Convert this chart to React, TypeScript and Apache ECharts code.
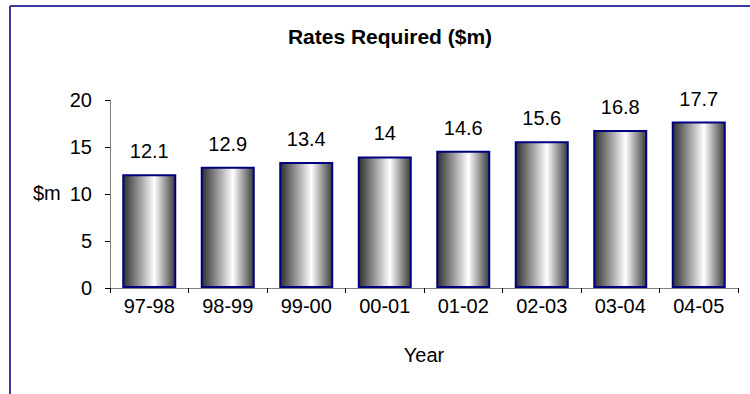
import React, { useEffect, useRef } from "react";
import * as echarts from "echarts";

const categories = ["97-98", "98-99", "99-00", "00-01", "01-02", "02-03", "03-04", "04-05"];
const values = [12.1, 12.9, 13.4, 14, 14.6, 15.6, 16.8, 17.7];
const titleText = "Rates Required ($m)";
const yName = "$m";
const xName = "Year";

const FONT = "'Liberation Sans', Arial, sans-serif";

export default function App() {
  const ref = useRef<HTMLDivElement>(null);
  useEffect(() => {
    if (!ref.current) return;
    const chart = echarts.init(ref.current, undefined, { renderer: "svg" });
    chart.setOption({
      animation: false,
      backgroundColor: "#ffffff",
      title: {
        text: titleText,
        left: 385,
        top: 21,
        textAlign: "center",
        textStyle: { fontFamily: FONT, fontSize: 21, fontWeight: "bold", color: "#000" },
      },
      graphic: [
        { type: "line", shape: { x1: 10, y1: 6, x2: 750, y2: 6 }, style: { stroke: "#3b3ba6", lineWidth: 2 } },
        { type: "line", shape: { x1: 10, y1: 6, x2: 10, y2: 394 }, style: { stroke: "#3b3ba6", lineWidth: 2 } },
        {
          type: "text",
          left: 33,
          top: 183,
          style: { text: yName, font: `20px ${FONT}`, fill: "#000" },
        },
      ],
      grid: { left: 110, right: 12, top: 100, bottom: 106 },
      xAxis: {
        type: "category",
        data: categories,
        name: xName,
        nameLocation: "middle",
        nameGap: 57,
        nameTextStyle: { fontFamily: FONT, fontSize: 20, color: "#000" },
        axisLine: { lineStyle: { color: "#808080", width: 1 } },
        axisTick: { show: true, length: 5, lineStyle: { color: "#000" } },
        axisLabel: { fontFamily: FONT, fontSize: 20, color: "#000", margin: 8 },
      },
      yAxis: {
        type: "value",
        min: 0,
        max: 20,
        interval: 5,
        axisLine: { show: true, lineStyle: { color: "#808080", width: 1 } },
        axisTick: { show: true, length: 5, lineStyle: { color: "#000" } },
        axisLabel: { fontFamily: FONT, fontSize: 20, color: "#000", margin: 18 },
        splitLine: { show: false },
      },
      series: [
        {
          type: "bar",
          data: values,
          barWidth: 54,
          itemStyle: {
            color: new echarts.graphic.LinearGradient(0, 0, 1, 0, [
              { offset: 0, color: "#2e2e2e" },
              { offset: 0.6, color: "#ffffff" },
              { offset: 1, color: "#3a3a3a" },
            ]),
            borderColor: "#000080",
            borderWidth: 2,
          },
          label: {
            show: true,
            position: "top",
            distance: 13,
            fontFamily: FONT,
            fontSize: 20,
            color: "#000",
          },
        },
      ],
    });
    return () => chart.dispose();
  }, []);
  return <div ref={ref} style={{ width: 750, height: 394, position: "absolute", left: 0, top: 0 }} />;
}
